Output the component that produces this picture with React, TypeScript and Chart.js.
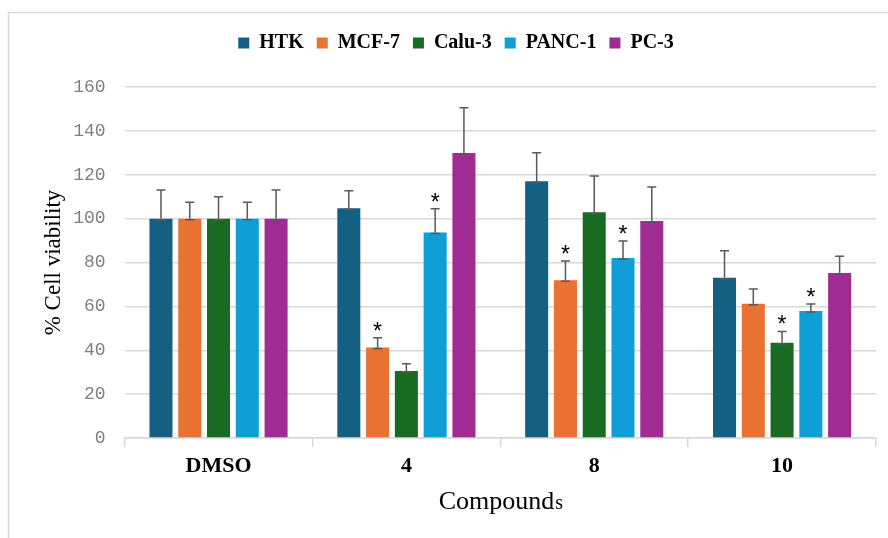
import React, { useEffect, useRef } from "react";
import { Chart, registerables } from "chart.js";

Chart.register(...registerables);

const categories = ["DMSO", "4", "8", "10"];
const seriesNames = ["HTK", "MCF-7", "Calu-3", "PANC-1", "PC-3"];
const seriesColors = ["#156082", "#E97132", "#196B24", "#0F9ED5", "#A02B93"];

const htkValues = [100, 104.7, 117, 73.1];
const mcf7Values = [100, 41.3, 71.9, 61.2];
const calu3Values = [100, 30.5, 102.9, 43.4];
const panc1Values = [100, 93.7, 82, 57.9];
const pc3Values = [100, 129.9, 98.9, 75.2];

const htkErrors = [13, 8, 13, 12.3];
const mcf7Errors = [7.5, 4.4, 8.8, 6.7];
const calu3Errors = [10, 3.4, 16.5, 5.2];
const panc1Errors = [7.5, 10.8, 7.8, 3.2];
const pc3Errors = [13, 20.6, 15.5, 7.6];

const htkStars = [false, false, false, false];
const mcf7Stars = [false, true, true, false];
const calu3Stars = [false, false, false, true];
const panc1Stars = [false, true, true, true];
const pc3Stars = [false, false, false, false];

const yTicks = [0, 20, 40, 60, 80, 100, 120, 140, 160];

const allValues = [htkValues, mcf7Values, calu3Values, panc1Values, pc3Values];
const allErrors = [htkErrors, mcf7Errors, calu3Errors, panc1Errors, pc3Errors];
const allStars = [htkStars, mcf7Stars, calu3Stars, panc1Stars, pc3Stars];

const SERIF = "'Liberation Serif', 'Times New Roman', serif";

const framePlugin = {
  id: "frame",
  beforeDraw(chart: any) {
    const ctx = chart.ctx;
    ctx.save();
    ctx.strokeStyle = "#d9d9d9";
    ctx.lineWidth = 1.5;
    ctx.beginPath();
    ctx.moveTo(8.5, chart.height);
    ctx.lineTo(8.5, 12.5);
    ctx.lineTo(chart.width, 12.5);
    ctx.stroke();
    ctx.restore();
  },
};

const errorBarPlugin = {
  id: "errorBars",
  afterDatasetsDraw(chart: any) {
    const ctx = chart.ctx;
    const yScale = chart.scales.y;
    ctx.save();
    chart.data.datasets.forEach((ds: any, di: number) => {
      const meta = chart.getDatasetMeta(di);
      meta.data.forEach((bar: any, j: number) => {
        const v = ds.data[j];
        const e = allErrors[di][j];
        const x = bar.x;
        const yb = yScale.getPixelForValue(v);
        const yt = yScale.getPixelForValue(v + e);
        const cap = 4.5;
        ctx.strokeStyle = "#595959";
        ctx.lineWidth = 1.5;
        ctx.beginPath();
        ctx.moveTo(x, yb);
        ctx.lineTo(x, yt);
        ctx.moveTo(x - cap, yt);
        ctx.lineTo(x + cap, yt);
        ctx.moveTo(x - cap, yb + 1);
        ctx.lineTo(x + cap, yb + 1);
        ctx.stroke();
        if (allStars[di][j]) {
          ctx.fillStyle = "#000";
          ctx.font = "23px 'Liberation Sans'";
          ctx.textAlign = "center";
          ctx.textBaseline = "alphabetic";
          ctx.fillText("*", x, yt + 1);
        }
      });
    });
    ctx.restore();
  },
};

const xTitlePlugin = {
  id: "xTitle",
  afterDraw(chart: any) {
    const ctx = chart.ctx;
    const area = chart.chartArea;
    const cx = (area.left + area.right) / 2;
    ctx.save();
    ctx.fillStyle = "#000";
    ctx.textBaseline = "alphabetic";
    ctx.textAlign = "left";
    const main = "Compound";
    const tail = "s";
    ctx.font = `26px ${SERIF}`;
    const w1 = ctx.measureText(main).width;
    ctx.font = `20px ${SERIF}`;
    const w2 = ctx.measureText(tail).width;
    const x0 = cx - (w1 + w2) / 2;
    ctx.font = `26px ${SERIF}`;
    ctx.fillText(main, x0, 509);
    ctx.font = `20px ${SERIF}`;
    ctx.fillText(tail, x0 + w1 + 1, 509);
    ctx.restore();
  },
};

export default function App() {
  const canvasRef = useRef<HTMLCanvasElement | null>(null);

  useEffect(() => {
    if (!canvasRef.current) return;
    const chart = new Chart(canvasRef.current, {
      type: "bar",
      data: {
        labels: categories,
        datasets: seriesNames.map((name, i) => ({
          label: name,
          data: allValues[i],
          backgroundColor: seriesColors[i],
          borderWidth: 0,
          barPercentage: 0.8,
          categoryPercentage: 0.766,
        })),
      },
      options: {
        responsive: false,
        animation: false,
        devicePixelRatio: 1,
        layout: { padding: { top: 20, left: 36, right: 12, bottom: 0 } },
        plugins: {
          legend: {
            position: "top",
            labels: {
              boxWidth: 11,
              boxHeight: 11,
              padding: 13,
              color: "#000",
              font: { family: SERIF, size: 20, weight: "bold" },
            },
          },
          title: {
            display: true,
            text: "",
            weight: 500,
            padding: 0,
            font: { size: 20, lineHeight: 1.2 },
          } as any,
          tooltip: { enabled: false },
        },
        scales: {
          x: {
            grid: {
              display: true,
              drawOnChartArea: false,
              offset: true,
              tickLength: 9,
              color: "#d9d9d9",
              lineWidth: 1.5,
            },
            border: { color: "#d9d9d9", width: 1.5 },
            ticks: {
              color: "#000",
              padding: 6,
              font: { family: SERIF, size: 22, weight: "bold" },
            },
            afterFit: (s: any) => {
              s.height = 100;
            },
          },
          y: {
            min: 0,
            max: 160,
            afterBuildTicks: (s: any) => {
              s.ticks = yTicks.map((v) => ({ value: v }));
            },
            grid: { color: "#d9d9d9", lineWidth: 1.5, drawTicks: false },
            border: { display: false },
            ticks: {
              color: "#7f7f7f",
              padding: 19,
              font: { family: "'Liberation Mono', monospace", size: 18 },
            },
            title: {
              display: true,
              text: "% Cell viability",
              color: "#000",
              padding: { top: 4, bottom: 4 },
              font: { family: SERIF, size: 23, lineHeight: 1.2 },
            },
            afterFit: (s: any) => {
              s.width = 88.6;
            },
          },
        },
      },
      plugins: [framePlugin, errorBarPlugin, xTitlePlugin],
    });
    return () => chart.destroy();
  }, []);

  return (
    <div style={{ position: "fixed", left: 0, top: 0, width: 888, height: 538, background: "#fff" }}>
      <canvas ref={canvasRef} width={888} height={538} style={{ width: 888, height: 538, display: "block" }} />
    </div>
  );
}
